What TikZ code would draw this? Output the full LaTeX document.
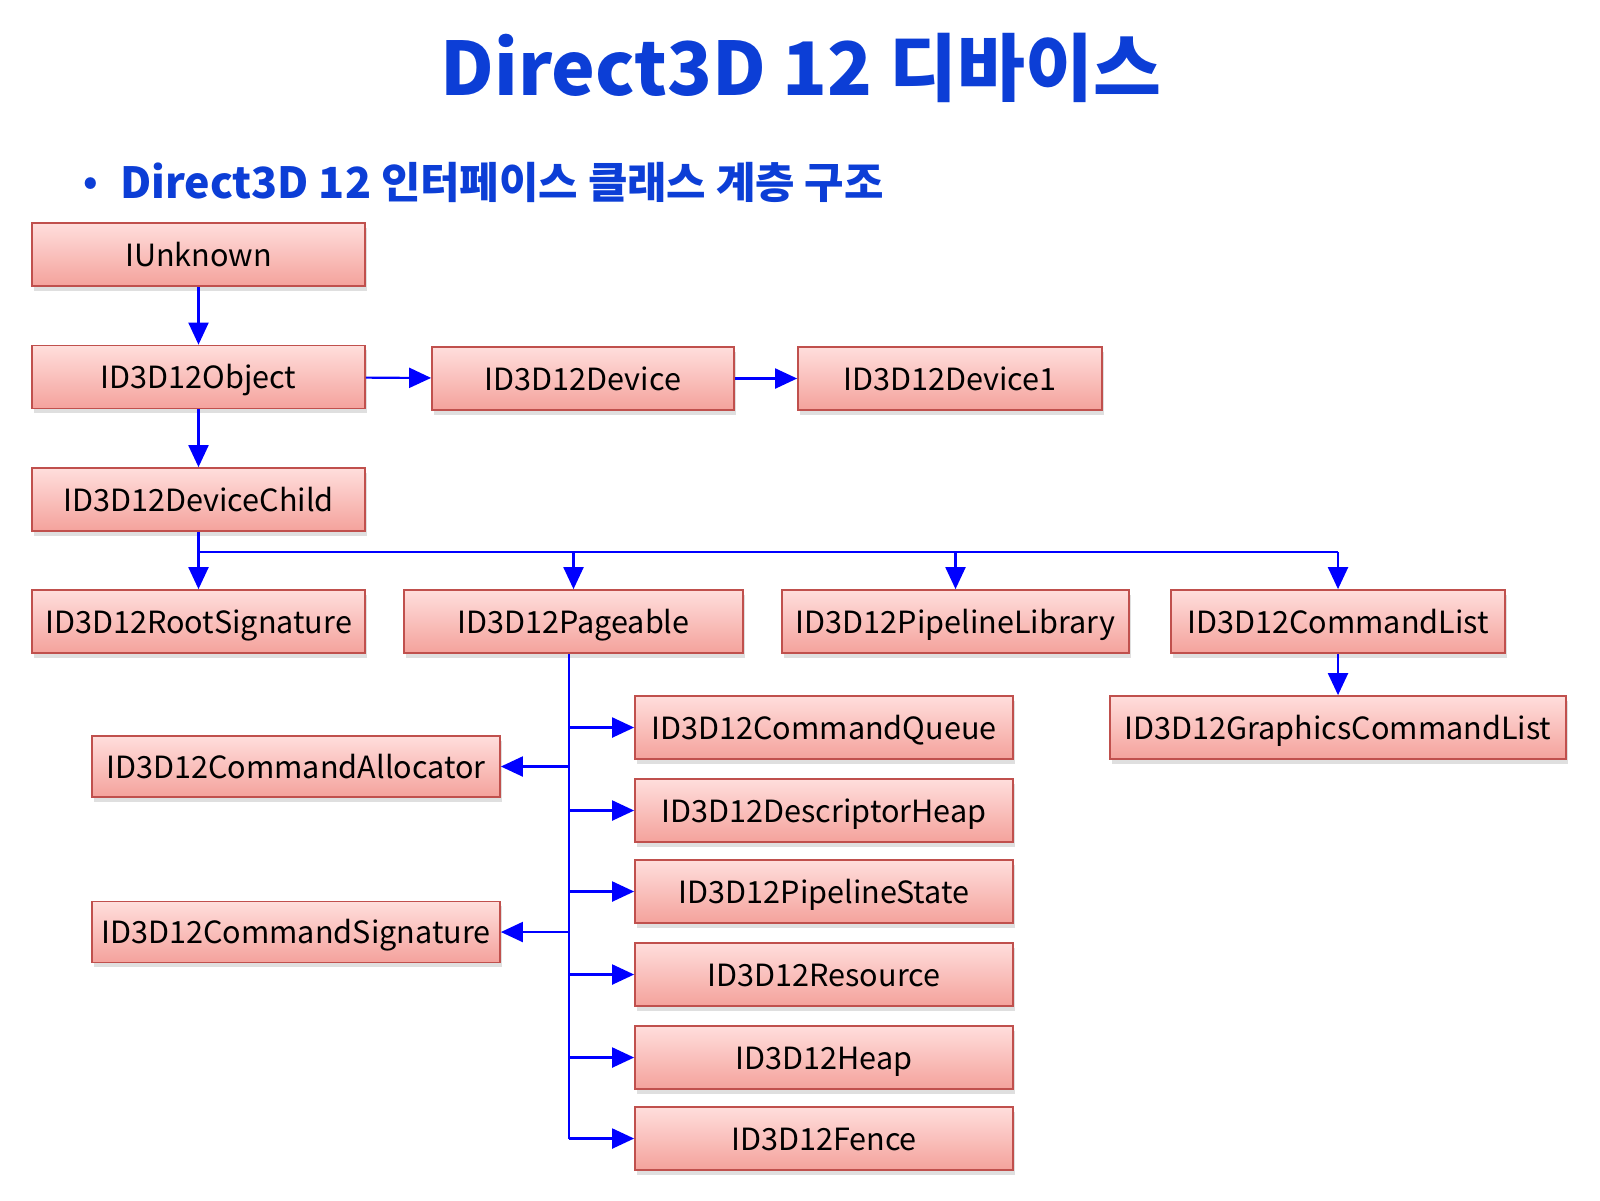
\documentclass[tikz,border=0pt]{standalone}
\usepackage{fontspec}
\setmainfont{Noto Sans CJK KR}
\usepackage{tikz}
\usetikzlibrary{arrows.meta}
\usetikzlibrary{positioning}
\usetikzlibrary{shadows}
\definecolor{boxtop}{RGB}{255,222,220}
\definecolor{boxbot}{RGB}{244,162,156}
\definecolor{boxrim}{RGB}{192,80,77}
\definecolor{headblue}{RGB}{12,62,214}
\definecolor{linkblue}{RGB}{0,0,255}
\tikzset{box/.style = {draw = boxrim, line width = 0.5pt, top color = boxtop, bottom color = boxbot,
    minimum height = 0.63cm, inner sep = 0, text height = 0.66em, text depth = 0pt,
    font = \fontsize{8.7}{10}\selectfont,
    drop shadow = {opacity = 0.25, shadow xshift = 0.6pt, shadow yshift = -1.4pt}}}
\tikzset{link/.style = {draw = linkblue, line width = 0.6pt, -{Triangle[length = 0.22cm, width = 0.2cm]}}}
\tikzset{trunk/.style = {draw = linkblue, line width = 0.6pt}}

\begin{document}
\begin{tikzpicture}
    \useasboundingbox (0, 0) rectangle (16, -12);

    % headings
    \node [anchor = base, text = headblue, font = \fontsize{21}{25}\selectfont\bfseries] (title) at (8.01, -0.95) {Direct3D 12 디바이스};
    \node [anchor = base west, text = headblue, inner sep = 0, font = \fontsize{12.2}{15}\selectfont\bfseries] (sub) at (0.83, -1.98) {\raisebox{0.15ex}{\scalebox{0.85}{•}}\hspace{0.22cm}Direct3D 12 인터페이스 클래스 계층 구조};

    % upper chain
    \node [box, minimum width = 3.33cm] (unk) at (1.985, -2.545) {IUnknown};
    \node [box, minimum width = 3.33cm] (obj) at (1.985, -3.77) {ID3D12Object};
    \node [box, minimum width = 3.02cm] (dev) at (5.83, -3.785) {ID3D12Device};
    \node [box, minimum width = 3.04cm] (dev1) at (9.50, -3.785) {ID3D12Device1};
    \node [box, minimum width = 3.33cm] (child) at (1.985, -4.995) {ID3D12DeviceChild};

    \draw [link] (unk) -- (obj);
    \draw [link] (obj) -- (child);
    \draw [link] (obj) -- (dev);
    \draw [link] (dev) -- (dev1);

    % device children
    \node [box, minimum width = 3.33cm] (root) at (1.985, -6.215) {ID3D12RootSignature};
    \node [box, minimum width = 3.39cm] (page) at (5.735, -6.215) {ID3D12Pageable};
    \node [box, minimum width = 3.47cm] (plib) at (9.555, -6.215) {ID3D12PipelineLibrary};
    \node [box, minimum width = 3.34cm] (clist) at (13.38, -6.215) {ID3D12CommandList};
    \node [box, minimum width = 4.56cm] (gclist) at (13.38, -7.275) {ID3D12GraphicsCommandList};

    \draw [trunk] (child.south) -- ++(0, -0.2) coordinate (bus) -- (bus -| clist.north);
    \draw [link] (bus) -- (root);
    \draw [link] (bus -| page.north) -- (page);
    \draw [link] (bus -| plib.north) -- (plib);
    \draw [link] (bus -| clist.north) -- (clist);
    \draw [link] (clist) -- (gclist);

    % pageable children
    \node [box, minimum width = 3.78cm] (queue) at (8.24, -7.275) {ID3D12CommandQueue};
    \node [box, minimum width = 3.78cm] (dheap) at (8.24, -8.105) {ID3D12DescriptorHeap};
    \node [box, minimum width = 3.78cm] (pstate) at (8.24, -8.915) {ID3D12PipelineState};
    \node [box, minimum width = 3.78cm] (res) at (8.24, -9.745) {ID3D12Resource};
    \node [box, minimum width = 3.78cm] (heap) at (8.24, -10.575) {ID3D12Heap};
    \node [box, minimum width = 3.78cm] (fence) at (8.24, -11.385) {ID3D12Fence};
    \node [box, minimum width = 4.08cm, minimum height = 0.61cm] (alloc) at (2.96, -7.665) {ID3D12CommandAllocator};
    \node [box, minimum width = 4.08cm, minimum height = 0.61cm] (csig) at (2.96, -9.32) {ID3D12CommandSignature};

    \coordinate (stem) at ([xshift = -0.045cm]page.south);
    \draw [trunk] (stem) -- (stem |- fence.west);
    \foreach \kid in {queue, dheap, pstate, res, heap, fence}
      \draw [link] (stem |- \kid.west) -- (\kid.west);
    \foreach \kid in {alloc, csig}
      \draw [link] (stem |- \kid.east) -- (\kid.east);
  \end{tikzpicture}
\end{document}
